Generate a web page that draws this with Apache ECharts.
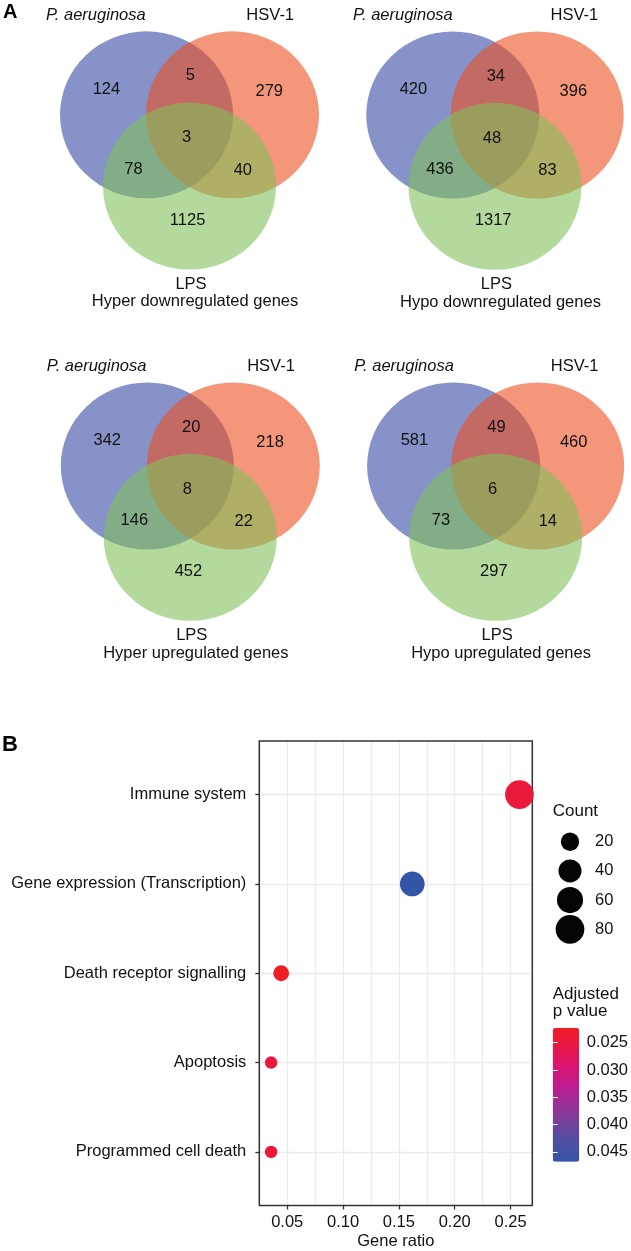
<!DOCTYPE html>
<html>
<head>
<meta charset="utf-8">
<script src="https://cdn.jsdelivr.net/npm/echarts@6/dist/echarts.min.js"></script>
<style>
html,body{margin:0;padding:0;background:#fff;}
#chart{width:631px;height:1251px;}
</style>
</head>
<body>
<div id="chart"></div>
<script>
// ---------- Panel A data ----------
const setNames = ['P. aeruginosa', 'HSV-1', 'LPS'];
const vennTitles = ['Hyper downregulated genes', 'Hypo downregulated genes', 'Hyper upregulated genes', 'Hypo upregulated genes'];
// region order: PA only, PA∩HSV, HSV only, all three, PA∩LPS, HSV∩LPS, LPS only
const vennHyperDown = [124, 5, 279, 3, 78, 40, 1125];
const vennHypoDown  = [420, 34, 396, 48, 436, 83, 1317];
const vennHyperUp   = [342, 20, 218, 8, 146, 22, 452];
const vennHypoUp    = [581, 49, 460, 6, 73, 14, 297];

// ---------- Panel B data ----------
const categories = ['Immune system', 'Gene expression (Transcription)', 'Death receptor signalling', 'Apoptosis', 'Programmed cell death'];
const geneRatio = [0.258, 0.162, 0.0446, 0.0356, 0.0356];
const geneCount = [80, 50, 14, 11, 11];
const pAdjust = [0.0245, 0.0468, 0.0223, 0.0246, 0.0246];
const xTicks = [0.05, 0.10, 0.15, 0.20, 0.25];
const pTicks = [0.025, 0.030, 0.035, 0.040, 0.045];
const countLegend = [20, 40, 60, 80];

// ---------- layout / style ----------
const FONT = 'Liberation Sans';
const TXT = '#111';
const FS = 16.5;
const unitX = 86.5, unitY = 83.5;           // circle radius in px (x / y)
const vennOrigins = [[189.5, 114.8], [497.4, 115], [190.3, 466], [498.7, 466]];
const setCenters = [[-0.497, 0], [0.497, 0], [0, 0.854]];
const setColors = ['#3749A5', '#ED5021', '#80C05C'];
const regionPos = [[-0.96, -0.30], [0.01, -0.467], [0.922, -0.279], [-0.035, 0.275], [-0.647, 0.65], [0.617, 0.663], [-0.022, 1.262]];
const namePos = [[-1.083, -1.19], [0.933, -1.19], [0.017, 2.033]];
const titlePos = [0.064, 2.24];
const vennData = [vennHyperDown, vennHypoDown, vennHyperUp, vennHypoUp];

const textLabel = {show: true, position: 'inside', fontSize: FS, color: TXT, fontFamily: FONT, opacity: 1, textBorderWidth: 0};
const grids = [], xAxes = [], yAxes = [], series = [];

vennData.forEach((counts, v) => {
  const [ox, oy] = vennOrigins[v];
  grids.push({left: ox - 1.6 * unitX, top: oy - 1.3 * unitY, width: 3.2 * unitX, height: 3.7 * unitY, show: false});
  xAxes.push({gridIndex: v, type: 'value', min: -1.6, max: 1.6, show: false});
  yAxes.push({gridIndex: v, type: 'value', min: -1.3, max: 2.4, inverse: true, show: false});
  series.push({
    type: 'scatter', xAxisIndex: v, yAxisIndex: v, clip: false, silent: true,
    symbol: 'circle', symbolSize: [2 * unitX, 2 * unitY],
    data: setCenters.map((c, i) => ({value: c, itemStyle: {color: setColors[i], opacity: 0.6}}))
  });
  series.push({
    type: 'scatter', xAxisIndex: v, yAxisIndex: v, clip: false, silent: true, z: 5,
    symbolSize: 1, itemStyle: {color: 'rgba(0,0,0,0)', opacity: 1},
    label: Object.assign({}, textLabel, {formatter: p => String(p.value[2])}),
    data: regionPos.map((p, i) => [p[0], p[1], counts[i]])
  });
  const texts = namePos.map((p, i) => ({
    value: [p[0], p[1], setNames[i]],
    label: {fontStyle: i === 0 ? 'italic' : 'normal'}
  }));
  texts.push({value: [titlePos[0], titlePos[1], vennTitles[v]]});
  series.push({
    type: 'scatter', xAxisIndex: v, yAxisIndex: v, clip: false, silent: true, z: 5,
    symbolSize: 1, itemStyle: {color: 'rgba(0,0,0,0)', opacity: 1},
    label: Object.assign({}, textLabel, {formatter: p => p.value[2]}),
    data: texts
  });
});

// ---------- Panel B: dot plot (grid 4) ----------
const cMin = Math.min(...geneCount), cMax = Math.max(...geneCount);
const sizeFn = c => 12.5 + 16.2 * Math.sqrt(Math.max(0, (c - cMin) / (cMax - cMin)));
const pMin = Math.min(...pAdjust), pMax = Math.max(...pAdjust);

grids.push({left: 259.3, top: 741, width: 273, height: 467.7, show: true, borderColor: '#333', borderWidth: 1.5, backgroundColor: 'rgba(0,0,0,0)', z: 1});
// x axis for grid lines (every 0.025)
xAxes.push({gridIndex: 4, type: 'value', min: 0.025, max: 0.2695, interval: 0.025, position: 'bottom',
  axisLine: {show: false}, axisTick: {show: false}, axisLabel: {show: false},
  splitLine: {show: true, lineStyle: {color: '#ebebeb', width: 1.3}}});
// x axis for ticks and labels
xAxes.push({gridIndex: 4, type: 'value', min: 0.025, max: 0.2695, position: 'bottom',
  name: 'Gene ratio', nameLocation: 'middle', nameGap: 27.5,
  nameTextStyle: {fontSize: FS, color: TXT, fontFamily: FONT},
  axisLine: {show: false},
  axisTick: {show: true, length: 4, customValues: xTicks, lineStyle: {color: '#333', width: 1.3}},
  axisLabel: {show: true, customValues: xTicks, formatter: v => v.toFixed(2), margin: 8, fontSize: FS, color: TXT, fontFamily: FONT},
  splitLine: {show: false}});
const catIdx = categories.map((c, i) => i);
yAxes.push({gridIndex: 4, type: 'value', min: -0.6, max: 4.6, inverse: true,
  axisLine: {show: false},
  axisTick: {show: true, length: 4, customValues: catIdx, lineStyle: {color: '#333', width: 1.3}},
  axisLabel: {show: true, customValues: catIdx, formatter: v => categories[Math.round(v)], margin: 13, fontSize: FS, color: TXT, fontFamily: FONT},
  splitLine: {show: true, lineStyle: {color: '#ebebeb', width: 1.3}}});
const dotXAxis = xAxes.length - 2;
const dotYAxis = yAxes.length - 1;
series.push({
  type: 'scatter', xAxisIndex: dotXAxis, yAxisIndex: dotYAxis, clip: false, z: 3,
  itemStyle: {opacity: 1},
  symbolSize: d => sizeFn(d[2]),
  data: categories.map((c, i) => [geneRatio[i], i, geneCount[i], pAdjust[i]])
});
const dotSeriesIndex = series.length - 1;

// ---------- colour bar axis (grid 5) ----------
grids.push({left: 552.7, top: 1028, width: 26.6, height: 133.7, show: false});
xAxes.push({gridIndex: 5, type: 'value', min: 0, max: 1, show: false});
yAxes.push({gridIndex: 5, type: 'value', min: pMin, max: pMax, inverse: true, position: 'right', z: 10,
  axisLine: {show: false},
  axisTick: {show: true, inside: true, length: 5, customValues: pTicks, lineStyle: {color: '#fff', width: 1}},
  axisLabel: {show: true, customValues: pTicks, formatter: v => v.toFixed(3), margin: 9, fontSize: FS, color: TXT, fontFamily: FONT},
  splitLine: {show: false}});
yAxes.push({gridIndex: 5, type: 'value', min: pMin, max: pMax, inverse: true, position: 'left', z: 10,
  axisLine: {show: false},
  axisTick: {show: true, inside: true, length: 5, customValues: pTicks, lineStyle: {color: '#fff', width: 1}},
  axisLabel: {show: false}, splitLine: {show: false}});

// ---------- count size legend (grid 6) ----------
grids.push({left: 556, top: 827.1, width: 28, height: 116.8, show: false});
xAxes.push({gridIndex: 6, type: 'value', min: 0, max: 1, show: false});
yAxes.push({gridIndex: 6, type: 'category', data: countLegend.map(String), inverse: true, position: 'right',
  axisLine: {show: false}, axisTick: {show: false},
  axisLabel: {margin: 11, fontSize: FS, color: TXT, fontFamily: FONT}, splitLine: {show: false}});
series.push({
  type: 'scatter', xAxisIndex: xAxes.length - 1, yAxisIndex: yAxes.length - 1, silent: true, clip: false,
  itemStyle: {color: '#050505', opacity: 1},
  symbolSize: d => sizeFn(d[2]),
  data: countLegend.map(c => [0.5, String(c), c])
});

const option = {
  animation: false,
  backgroundColor: '#fff',
  textStyle: {fontFamily: FONT},
  grid: grids,
  xAxis: xAxes,
  yAxis: yAxes,
  series: series,
  visualMap: [{
    type: 'continuous', show: true, seriesIndex: dotSeriesIndex, dimension: 3,
    min: pMin, max: pMax, inverse: true, calculable: false, hoverLink: false,
    left: 552.7, top: 1028, padding: 0, itemWidth: 26.6, itemHeight: 133.7, text: null, z: 4,
    inRange: {color: ['#ee1d24', '#e81648', '#d91470', '#bf1a8c', '#9a2e96', '#73429c', '#4d4fa0', '#3455a6'], opacity: 1}
  }],
  graphic: [
    {type: 'text', left: 3, top: 2, style: {text: 'A', font: 'bold 20px "Liberation Sans"', fill: '#000'}},
    {type: 'text', left: 2, top: 734, style: {text: 'B', font: 'bold 22px "Liberation Sans"', fill: '#000'}},
    {type: 'text', left: 552.7, top: 803, style: {text: 'Count', font: '17px "Liberation Sans"', fill: TXT}},
    {type: 'text', left: 552.7, top: 986, style: {text: 'Adjusted\np value', font: '17px "Liberation Sans"', fill: TXT, lineHeight: 17}}
  ]
};

const chart = echarts.init(document.getElementById('chart'), null, {renderer: 'canvas'});
chart.setOption(option);
</script>
</body>
</html>
